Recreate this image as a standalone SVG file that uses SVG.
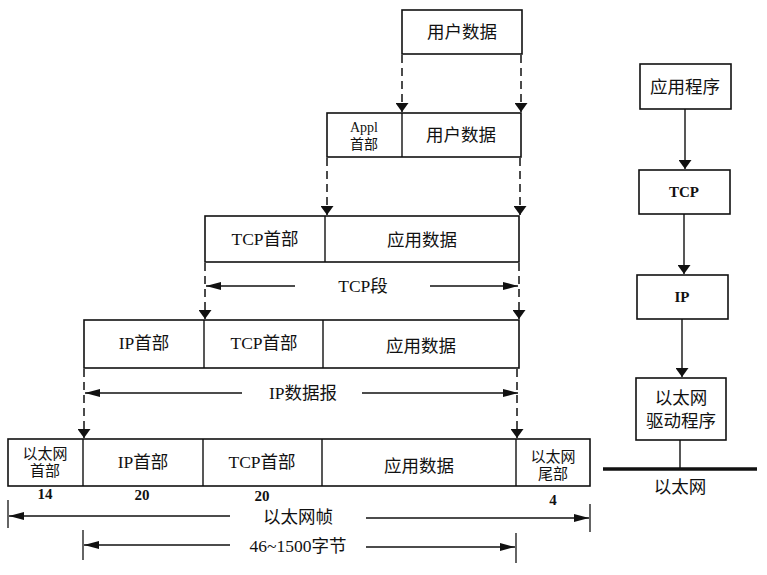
<svg xmlns="http://www.w3.org/2000/svg" width="767" height="575" viewBox="0 0 767 575">
<style>
.box{fill:#fff;stroke:#111;stroke-width:1.6}
.t{font-family:"Liberation Serif","Noto Sans CJK SC",serif;font-size:17.5px;fill:#111;text-anchor:middle;dominant-baseline:central}
.s{font-size:15px}
.a{font-size:14px}
.b{font-weight:bold;font-size:15px}
.dash{stroke:#111;stroke-width:1.5;stroke-dasharray:8 5;fill:none}
.ln{stroke:#111;stroke-width:1.4;fill:none}
.tick{stroke:#111;stroke-width:1.3}
</style>
<defs>
<marker id="ah" viewBox="0 0 10 10" refX="10" refY="5" markerWidth="9" markerHeight="13" markerUnits="userSpaceOnUse" orient="auto" preserveAspectRatio="none">
<path d="M0,0 L10,5 L0,10 Z" fill="#111"/>
</marker>
<marker id="ahd" viewBox="0 0 10 10" refX="10" refY="5" markerWidth="15" markerHeight="8" markerUnits="userSpaceOnUse" orient="auto" preserveAspectRatio="none">
<path d="M0,0 L10,5 L0,10 Z" fill="#111"/>
</marker>
</defs>

<g id="row1">
<rect class="box" x="402" y="10" width="120" height="44"/>
<text class="t" x="462" y="32">用户数据</text>
</g>

<g id="row2">
<rect class="box" x="327" y="113" width="194" height="44"/>
<line class="ln" x1="402" y1="113" x2="402" y2="157"/>
<text class="t a" x="364" y="127">Appl</text>
<text class="t a" x="364" y="144">首部</text>
<text class="t" x="461" y="135">用户数据</text>
</g>

<g id="row3">
<rect class="box" x="205" y="216" width="314" height="46"/>
<line class="ln" x1="325" y1="216" x2="325" y2="262"/>
<text class="t" x="265" y="239">TCP首部</text>
<text class="t" x="422" y="240">应用数据</text>
</g>

<g id="row4">
<rect class="box" x="84" y="320" width="435" height="48"/>
<line class="ln" x1="204" y1="320" x2="204" y2="368"/>
<line class="ln" x1="323" y1="320" x2="323" y2="368"/>
<text class="t" x="144" y="343">IP首部</text>
<text class="t" x="264" y="343">TCP首部</text>
<text class="t" x="421" y="346">应用数据</text>
</g>

<g id="row5">
<rect class="box" x="8" y="439" width="582" height="47"/>
<line class="ln" x1="83" y1="439" x2="83" y2="486"/>
<line class="ln" x1="203" y1="439" x2="203" y2="486"/>
<line class="ln" x1="322" y1="439" x2="322" y2="486"/>
<line class="ln" x1="516" y1="439" x2="516" y2="486"/>
<text class="t s" x="45" y="454">以太网</text>
<text class="t s" x="45" y="471">首部</text>
<text class="t" x="143" y="462">IP首部</text>
<text class="t" x="262" y="462">TCP首部</text>
<text class="t" x="419" y="466">应用数据</text>
<text class="t s" x="553" y="457">以太网</text>
<text class="t s" x="553" y="474">尾部</text>
<text class="t b" x="45" y="494">14</text>
<text class="t b" x="142" y="495">20</text>
<text class="t b" x="262" y="496">20</text>
<text class="t b" x="553" y="500">4</text>
</g>

<g id="app"><rect class="box" x="640" y="64" width="91" height="45"/><text class="t" x="685" y="87">应用程序</text></g>
<g id="tcp"><rect class="box" x="639" y="170" width="91" height="44"/><text class="t b" x="684" y="192">TCP</text></g>
<g id="ip"><rect class="box" x="637" y="275" width="91" height="44"/><text class="t b" x="682" y="297">IP</text></g>
<g id="eth"><rect class="box" x="636" y="378" width="90" height="62"/><text class="t" x="681" y="398">以太网</text><text class="t" x="681" y="421">驱动程序</text></g>
<g id="ethernet"><line x1="603" y1="469" x2="757" y2="469" stroke="#111" stroke-width="3.5"/><text class="t" x="680" y="487">以太网</text></g>

<g id="connectors">
<line class="dash" x1="402" y1="55" x2="402" y2="112" marker-end="url(#ah)"/>
<line class="dash" x1="521" y1="55" x2="521" y2="112" marker-end="url(#ah)"/>
<line class="dash" x1="327" y1="158" x2="327" y2="215" marker-end="url(#ah)"/>
<line class="dash" x1="520" y1="158" x2="520" y2="215" marker-end="url(#ah)"/>
<line class="dash" x1="205" y1="263" x2="205" y2="319" marker-end="url(#ah)"/>
<line class="dash" x1="519" y1="263" x2="519" y2="319" marker-end="url(#ah)"/>
<line class="dash" x1="84" y1="369" x2="84" y2="438" marker-end="url(#ah)"/>
<line class="dash" x1="517" y1="369" x2="517" y2="438" marker-end="url(#ah)"/>

<line class="ln" x1="295" y1="286" x2="206" y2="286" marker-end="url(#ahd)"/>
<line class="ln" x1="430" y1="286" x2="518" y2="286" marker-end="url(#ahd)"/>
<text class="t" x="363" y="286">TCP段</text>

<line class="ln" x1="242" y1="393" x2="85" y2="393" marker-end="url(#ahd)"/>
<line class="ln" x1="362" y1="393" x2="518" y2="393" marker-end="url(#ahd)"/>
<text class="t" x="303" y="393">IP数据报</text>

<line class="tick" x1="8" y1="500" x2="8" y2="528"/>
<line class="tick" x1="590" y1="504" x2="590" y2="532"/>
<line class="ln" x1="230" y1="516" x2="9" y2="516" marker-end="url(#ahd)"/>
<line class="ln" x1="366" y1="518" x2="589" y2="518" marker-end="url(#ahd)"/>
<text class="t" x="298" y="517">以太网帧</text>

<line class="tick" x1="83" y1="530" x2="83" y2="560"/>
<line class="tick" x1="516" y1="533" x2="516" y2="563"/>
<line class="ln" x1="230" y1="545" x2="84" y2="545" marker-end="url(#ahd)"/>
<line class="ln" x1="366" y1="547" x2="515" y2="547" marker-end="url(#ahd)"/>
<text class="t" x="298" y="546">46~1500字节</text>

<line class="ln" x1="685" y1="109" x2="685" y2="169" marker-end="url(#ah)"/>
<line class="ln" x1="684" y1="214" x2="684" y2="274" marker-end="url(#ah)"/>
<line class="ln" x1="682" y1="319" x2="682" y2="377" marker-end="url(#ah)"/>
<line class="ln" x1="680" y1="440" x2="680" y2="468"/>
</g>
</svg>
